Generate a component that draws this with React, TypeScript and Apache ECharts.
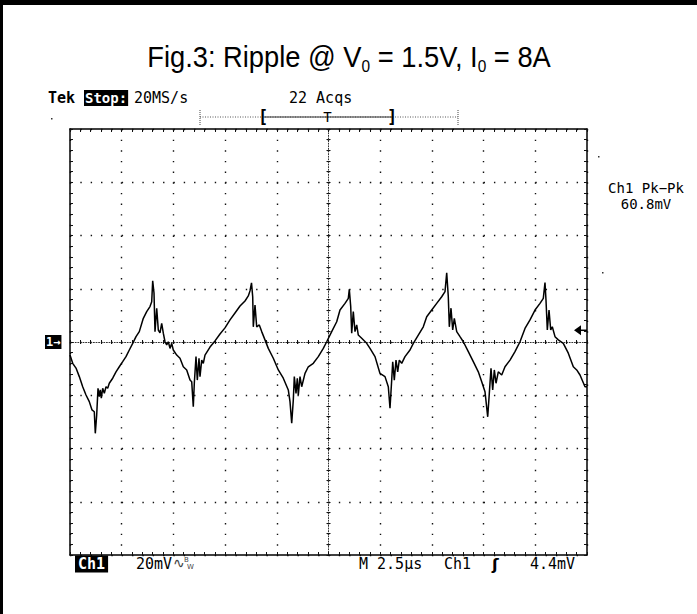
import React, { useEffect, useRef } from "react";
import * as echarts from "echarts";

// ---- Data (time in µs, ripple in mV) ----
const traceTimeUs = [
  0, 0.131, 0.29, 0.45, 0.614, 0.774, 0.933, 1.064, 1.175, 1.223,
  1.291, 1.354, 1.417, 1.465, 1.514, 1.581, 1.659, 1.741, 1.823, 1.9,
  2.065, 2.224, 2.384, 2.548, 2.708, 2.868, 3.032, 3.192, 3.351, 3.545,
  3.709, 3.868, 3.951, 3.999, 4.062, 4.11, 4.193, 4.27, 4.352, 4.434,
  4.512, 4.594, 4.676, 4.754, 4.836, 4.918, 4.995, 5.16, 5.319, 5.479,
  5.643, 5.803, 5.885, 5.962, 6.011, 6.093, 6.156, 6.238, 6.286, 6.369,
  6.446, 6.528, 6.77, 7.012, 7.253, 7.495, 7.737, 7.979, 8.221, 8.462,
  8.622, 8.704, 8.777, 8.835, 8.864, 8.946, 9.028, 9.154, 9.27, 9.429,
  9.589, 9.831, 10.073, 10.314, 10.556, 10.638, 10.721, 10.798, 10.847, 10.929,
  10.992, 11.04, 11.122, 11.204, 11.364, 11.523, 11.765, 12.007, 12.249, 12.413,
  12.655, 12.897, 13.056, 13.298, 13.458, 13.506, 13.574, 13.622, 13.699, 13.781,
  13.864, 13.941, 14.106, 14.348, 14.507, 14.749, 14.99, 15.232, 15.392, 15.474,
  15.556, 15.605, 15.682, 15.764, 15.846, 15.924, 16.04, 16.199, 16.441, 16.601,
  16.842, 17.084, 17.249, 17.491, 17.732, 17.974, 18.134, 18.216, 18.293, 18.342,
  18.424, 18.506, 18.584, 18.7, 18.859, 19.019, 19.261, 19.502, 19.744, 19.909,
  20.068, 20.199, 20.276, 20.358, 20.44, 20.518, 20.6, 20.711, 20.876, 21.035,
  21.277, 21.518, 21.76, 22.002, 22.244, 22.486, 22.727, 22.887, 22.969, 23.017,
  23.081, 23.163, 23.245, 23.322, 23.453, 23.613, 23.854, 24.096, 24.338, 24.502,
  24.662, 24.903, 25.0,
];
const traceMv = [
  -4.9, -8.0, -9.8, -13.0, -16.8, -19.9, -22.4, -25.5, -26.2, -34.3,
  -27.4, -17.4, -20.5, -18.0, -21.1, -17.4, -19.3, -16.8, -17.4, -15.5,
  -13.6, -11.2, -9.3, -7.4, -5.5, -3.0, -0.5, 2.0, 3.9, 8.9,
  11.4, 13.3, 15.1, 23.0, 18.4, 3.9, 12.7, 4.5, 3.4, 7.0,
  3.3, 0.1, -1.1, 0.1, -2.4, -0.5, -3.0, -4.9, -6.1, -9.3,
  -10.5, -14.3, -14.9, -24.3, -15.5, -5.5, -14.3, -6.1, -13.0, -6.8,
  -8.0, -4.9, -1.9, 0.4, 3.0, 5.3, 8.3, 10.9, 13.5, 15.4,
  17.3, 19.2, 22.2, 17.0, 5.7, 13.9, 5.7, 6.4, 3.9, 0.8,
  -2.4, -6.1, -10.5, -13.6, -18.0, -22.4, -30.5, -21.8, -13.0, -19.3,
  -13.6, -19.9, -13.0, -16.8, -11.8, -9.3, -8.0, -5.5, -2.4, 0.1,
  3.9, 7.6, 12.0, 14.5, 16.4, 19.8, 13.3, 3.3, 11.4, 3.9,
  6.4, 2.6, 1.4, -0.5, -2.4, -5.5, -11.8, -13.0, -16.8, -24.9,
  -14.3, -7.4, -14.3, -6.8, -11.2, -6.8, -8.0, -5.5, -3.0, -0.5,
  2.6, 5.7, 9.5, 12.0, 14.5, 17.0, 18.9, 26.0, 17.0, 5.7,
  12.7, 4.5, 8.9, 3.9, 2.0, 0.1, -3.6, -7.4, -11.2, -14.9,
  -18.7, -28.1, -19.3, -9.9, -18.0, -10.5, -15.5, -11.2, -12.4, -9.3,
  -6.8, -3.6, 0.1, 5.1, 8.3, 12.0, 14.5, 16.4, 22.3, 15.8,
  4.5, 12.0, 4.5, 5.7, 2.0, 0.8, -0.5, -4.2, -9.3, -10.5,
  -12.4, -16.8, -16.8,
];

const TIME_MIN = 0;
const TIME_MAX = 25;
const TIME_DIV = 2.5;
const MV_MIN = -80;
const MV_MAX = 80;
const MV_DIV = 20;
const TRIGGER_TIME_US = 12.5;
const TRIGGER_LEVEL_MV = 4.4;

const titleParts = ["Fig.3: Ripple @ V", "0", " = 1.5V, I", "0", " = 8A"];
const topReadouts = { brand: "Tek", state: "Stop:", rate: "20MS/s", acqs: "22 Acqs" };
const measureLines = ["Ch1 Pk\u2212Pk", "60.8mV"];
const bottomReadouts = {
  ch: "Ch1",
  scale: "20mV",
  coupling: "\u223F",
  bwB: "B",
  bwW: "W",
  time: "M 2.5\u00B5s",
  trigSrc: "Ch1",
  slope: "\u0283",
  level: "4.4mV",
};

const SCREEN_FONT = '"DejaVu Sans Mono", "Liberation Mono", monospace';
const TITLE_FONT = '"Liberation Sans", Arial, sans-serif';

const GRID = { left: 70, top: 129, width: 517, height: 426 };

function xAxisDef(position: string, offset: number, inside: boolean, showLine: boolean, dotted: boolean, split: boolean, tickLen: number) {
  return {
    type: "value",
    min: TIME_MIN,
    max: TIME_MAX,
    interval: TIME_DIV,
    position,
    offset,
    axisLine: {
      show: showLine,
      onZero: false,
      lineStyle: { color: dotted ? "#333" : "#000", width: dotted ? 1 : 1.5, type: dotted ? [1, 1.6] : "solid" },
    },
    axisTick: { show: true, inside, length: tickLen, lineStyle: { color: "#111", width: 1 } },
    minorTick: { show: true, splitNumber: 5, length: tickLen, lineStyle: { color: "#111", width: 1 } },
    axisLabel: { show: false },
    splitLine: { show: split, lineStyle: { color: "#111", width: 1.4, type: [1.4, 9.25] } },
    minorSplitLine: { show: false },
  };
}

function yAxisDef(position: string, offset: number, inside: boolean, showLine: boolean, dotted: boolean, split: boolean, tickLen: number) {
  return {
    type: "value",
    min: MV_MIN,
    max: MV_MAX,
    interval: MV_DIV,
    position,
    offset,
    axisLine: {
      show: showLine,
      onZero: false,
      lineStyle: { color: dotted ? "#333" : "#000", width: dotted ? 1 : 1.5, type: dotted ? [1, 1.6] : "solid" },
    },
    axisTick: { show: true, inside, length: tickLen, lineStyle: { color: "#111", width: 1 } },
    minorTick: { show: true, splitNumber: 5, length: tickLen, lineStyle: { color: "#111", width: 1 } },
    axisLabel: { show: false },
    splitLine: { show: split, lineStyle: { color: "#111", width: 1.4, type: [1.4, 8.94] } },
    minorSplitLine: { show: false },
  };
}

function txt(x: number, y: number, text: string, opts: any = {}) {
  const size = opts.size ?? 15;
  const weight = opts.bold ? "bold " : "";
  const style: any = {
    text,
    font: `${weight}${size}px ${opts.family ?? SCREEN_FONT}`,
    fill: opts.fill ?? "#000",
    align: opts.align ?? "left",
    textAlign: opts.align ?? "left",
    verticalAlign: "middle",
    textVerticalAlign: "middle",
  };
  if (opts.bg) {
    style.backgroundColor = opts.bg;
    style.padding = opts.padding ?? [1, 2];
  }
  return { type: "text", x, y, silent: true, style };
}

export default function App() {
  const ref = useRef<HTMLDivElement>(null);

  useEffect(() => {
    if (!ref.current) return;
    const chart = echarts.init(ref.current, null, { renderer: "svg" });
    const data = traceTimeUs.map((t, i) => [t, traceMv[i]]);
    const halfH = GRID.height / 2;
    const halfW = GRID.width / 2;

    chart.setOption({
      animation: false,
      backgroundColor: "#fff",
      grid: { left: GRID.left, top: GRID.top, width: GRID.width, height: GRID.height, show: false },
      xAxis: [
        xAxisDef("bottom", 0, true, true, false, true, 3),
        xAxisDef("top", 0, true, true, false, false, 3),
        xAxisDef("bottom", -halfH, true, true, true, false, 2),
        xAxisDef("bottom", -halfH, false, false, true, false, 2),
      ],
      yAxis: [
        yAxisDef("left", 0, true, true, false, true, 3),
        yAxisDef("right", 0, true, true, false, false, 3),
        yAxisDef("left", -halfW, true, true, true, false, 2),
        yAxisDef("left", -halfW, false, false, true, false, 2),
      ],
      series: [
        {
          type: "line",
          name: "Ch1",
          xAxisIndex: 0,
          yAxisIndex: 0,
          data,
          showSymbol: false,
          symbol: "none",
          smooth: false,
          lineStyle: { color: "#000", width: 1.5 },
          z: 5,
        },
      ],
    });

    const [xTrig] = chart.convertToPixel({ seriesIndex: 0 }, [TRIGGER_TIME_US, 0]) as number[];
    const [xRight, yLevel] = chart.convertToPixel({ seriesIndex: 0 }, [TIME_MAX, TRIGGER_LEVEL_MV]) as number[];
    const [, yGround] = chart.convertToPixel({ seriesIndex: 0 }, [TIME_MIN, 0]) as number[];

    const titleText =
      `{a|${titleParts[0]}}{s|${titleParts[1]}}{a|${titleParts[2]}}{s|${titleParts[3]}}{a|${titleParts[4]}}`;

    const graphic: any[] = [
      // outer frame (left and top edges)
      { type: "rect", shape: { x: 0, y: 0, width: 3, height: 614 }, style: { fill: "#000" }, silent: true },
      { type: "rect", shape: { x: 0, y: 0, width: 697, height: 5 }, style: { fill: "#000" }, silent: true },
      // title
      {
        type: "text",
        x: 349,
        y: 57,
        scaleX: 0.91,
        silent: true,
        style: {
          text: titleText,
          fill: "#000",
          align: "center",
          textAlign: "center",
          verticalAlign: "middle",
          textVerticalAlign: "middle",
          rich: {
            a: { fontSize: 30, fontFamily: TITLE_FONT, lineHeight: 34, fill: "#000" },
            s: { fontSize: 17, fontFamily: TITLE_FONT, lineHeight: 17, verticalAlign: "bottom", fill: "#000" },
          },
        },
      },
      // top readouts
      txt(48, 98, topReadouts.brand, { bold: true }),
      txt(84, 98, topReadouts.state, { bold: true, size: 14, fill: "#fff", bg: "#000", padding: [1, 1] }),
      txt(134, 98, topReadouts.rate),
      txt(289, 98, topReadouts.acqs),
      // record / trigger position bar
      { type: "line", shape: { x1: 200, y1: 117, x2: 458, y2: 117 }, style: { stroke: "#555", lineWidth: 1, lineDash: [1, 1.5] }, silent: true },
      { type: "line", shape: { x1: 264, y1: 117, x2: 392, y2: 117 }, style: { stroke: "#333", lineWidth: 1 }, silent: true },
      { type: "line", shape: { x1: 200, y1: 110, x2: 200, y2: 126 }, style: { stroke: "#444", lineWidth: 1, lineDash: [1, 1] }, silent: true },
      { type: "line", shape: { x1: 458, y1: 110, x2: 458, y2: 126 }, style: { stroke: "#444", lineWidth: 1, lineDash: [1, 1] }, silent: true },
      txt(263, 117, "[", { bold: true, size: 17, align: "center" }),
      txt(392, 117, "]", { bold: true, size: 17, align: "center" }),
      txt(xTrig - 1, 117, "T", { size: 14, align: "center" }),
      // stray pixels of the scope screen
      { type: "rect", shape: { x: 51, y: 118, width: 1.5, height: 1.5 }, style: { fill: "#333" }, silent: true },
      { type: "rect", shape: { x: 598, y: 156, width: 1.5, height: 1.5 }, style: { fill: "#333" }, silent: true },
      { type: "rect", shape: { x: 602, y: 272, width: 1.5, height: 1.5 }, style: { fill: "#333" }, silent: true },
      // measurement
      txt(646, 188, measureLines[0], { align: "center", size: 14 }),
      txt(646, 204, measureLines[1], { align: "center", size: 14 }),
      // ground marker
      txt(45, yGround, "1\u2192", { bold: true, size: 12, fill: "#fff", bg: "#000", padding: [1, 1] }),
      // trigger level arrow
      {
        type: "polygon",
        shape: { points: [[xRight - 13, yLevel], [xRight - 6, yLevel - 5], [xRight - 6, yLevel + 5]] },
        style: { fill: "#000" },
        silent: true,
      },
      { type: "line", shape: { x1: xRight - 7, y1: yLevel, x2: xRight, y2: yLevel }, style: { stroke: "#000", lineWidth: 1.5 }, silent: true },
      // bottom readouts
      txt(75, 564, bottomReadouts.ch, { bold: true, fill: "#fff", bg: "#000", padding: [1, 3] }),
      txt(136, 564, bottomReadouts.scale),
      txt(173, 563, bottomReadouts.coupling, { size: 14, fill: "#444", family: '"DejaVu Sans", sans-serif' }),
      txt(184, 560, bottomReadouts.bwB, { size: 7, fill: "#444", family: '"DejaVu Sans", sans-serif' }),
      txt(187, 567, bottomReadouts.bwW, { size: 7, fill: "#444", family: '"DejaVu Sans", sans-serif' }),
      txt(359, 564, bottomReadouts.time),
      txt(444, 564, bottomReadouts.trigSrc),
      txt(492, 564, bottomReadouts.slope, { size: 16, bold: true, family: '"DejaVu Sans", sans-serif' }),
      txt(530, 564, bottomReadouts.level),
    ];

    chart.setOption({ graphic });

    return () => chart.dispose();
  }, []);

  return (
    <div
      ref={ref}
      style={{ position: "absolute", left: 0, top: 0, width: 697, height: 614, background: "#fff" }}
    />
  );
}
